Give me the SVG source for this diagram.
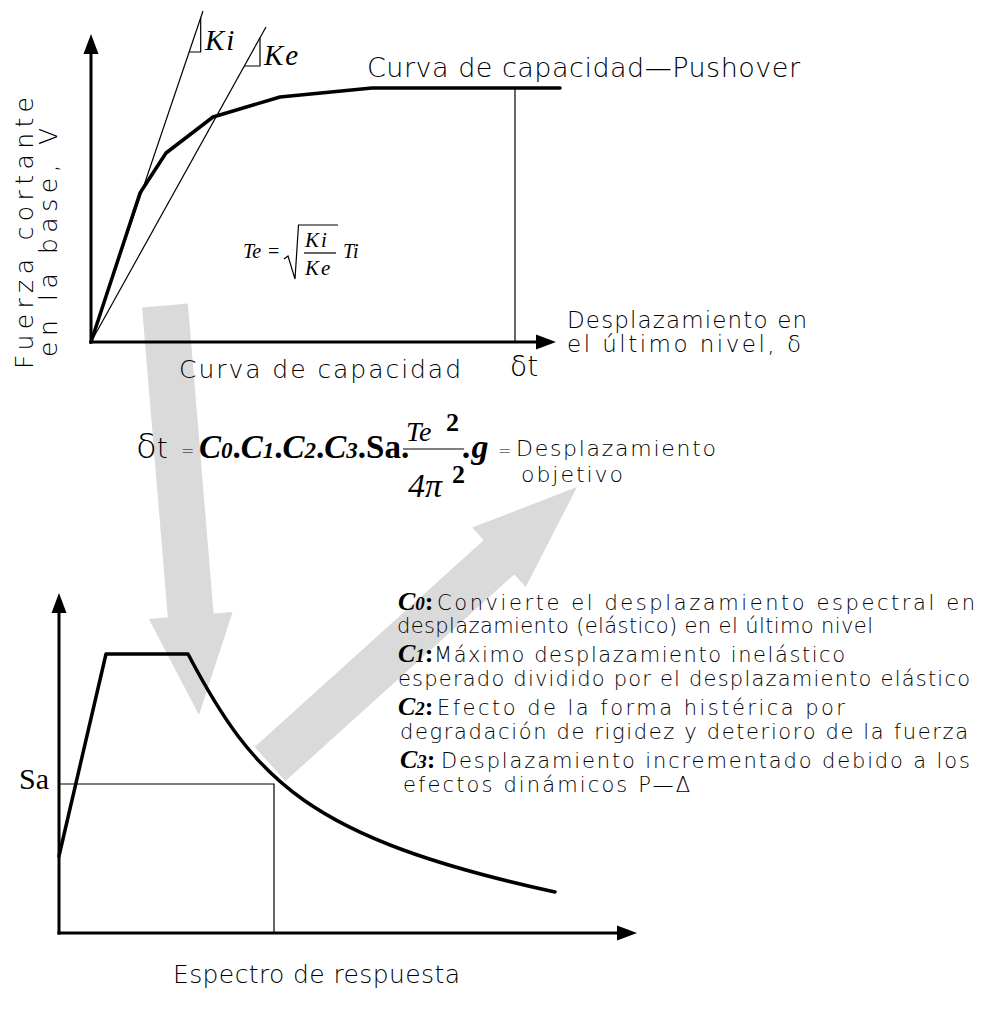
<svg xmlns="http://www.w3.org/2000/svg" width="1000" height="1021" viewBox="0 0 1000 1021">
<style>
.cad{font-family:"DejaVu Sans","Liberation Sans",sans-serif;font-weight:200;fill:#000}
.ser{font-family:"Liberation Serif","DejaVu Serif",serif;fill:#000}
.lbl{font-family:"Liberation Serif","DejaVu Serif",serif;font-size:26px;font-weight:bold;font-style:italic;fill:#000}
.thin{fill:none;stroke:#000;stroke-width:1.2}
.axis{fill:none;stroke:#000;stroke-width:3}
.thick{fill:none;stroke:#000;stroke-width:3.5;stroke-linejoin:round;stroke-linecap:round}
.big{fill:#dadada;stroke:none}
</style>
<rect width="1000" height="1021" fill="#fff"/>
<g id="connectors">
  <polygon class="big" points="142.1,307.4 187.9,303.6 213.6,613.5 232.6,611.9 199,715 148.8,618.9 167.8,617.3"/>
  <polygon class="big" points="254.6,746.9 483.6,540.2 472.2,527.6 577,487 525.8,587 514.4,574.4 285.4,781.1"/>
</g>
<g id="capacity-chart">
  <line class="axis" x1="91" y1="343.5" x2="91" y2="52"/>
  <polygon points="91,34 83.5,54 98.5,54"/>
  <line class="axis" x1="89.5" y1="342" x2="538" y2="342"/>
  <polygon points="556,342 536,334.5 536,349.5"/>
  <line class="thin" x1="91" y1="342" x2="203" y2="11"/>
  <line class="thin" x1="91" y1="342" x2="266" y2="27"/>
  <path class="thin" d="M189,52 H200.7 V17.8"/>
  <path class="thin" d="M244.3,66 H260 V37.8"/>
  <text class="ser" x="205" y="50" font-size="29" font-style="italic" letter-spacing="2">Ki</text>
  <text class="ser" x="264" y="65" font-size="29" font-style="italic" letter-spacing="2">Ke</text>
  <polyline class="thick" points="91,342 140,193 166,153 213,117 280,97 372,88 560,88"/>
  <line class="thin" x1="515" y1="88" x2="515" y2="342"/>
  <text class="cad" x="367" y="77" font-size="27" textLength="433" lengthAdjust="spacing">Curva de capacidad—Pushover</text>
  <text class="cad" font-size="25" transform="translate(33,369) rotate(-90)" textLength="272" lengthAdjust="spacing">Fuerza cortante</text>
  <text class="cad" font-size="25" transform="translate(57,357) rotate(-90)" textLength="229" lengthAdjust="spacing">en la base, V</text>
  <text class="cad" x="567" y="328" font-size="23" textLength="240" lengthAdjust="spacing">Desplazamiento en</text>
  <text class="cad" x="567" y="352" font-size="23" textLength="234" lengthAdjust="spacing">el último nivel, δ</text>
  <text class="cad" x="179" y="378" font-size="25" textLength="282" lengthAdjust="spacing">Curva de capacidad</text>
  <text class="cad" x="510" y="376" font-size="28">δt</text>
  <g id="te-formula">
    <text class="ser" x="243" y="258" font-size="20" font-style="italic">Te</text>
    <text class="ser" x="268" y="258" font-size="20">=</text>
    <path class="thin" d="M284,259 L288,256 L295,279 L298.5,225 H338"/>
    <text class="ser" x="305" y="247" font-size="21" font-style="italic" letter-spacing="2">Ki</text>
    <line class="thin" x1="304" y1="253" x2="336" y2="253"/>
    <text class="ser" x="305" y="275" font-size="21" font-style="italic" letter-spacing="2">Ke</text>
    <text class="ser" x="343" y="258" font-size="20" font-style="italic">Ti</text>
  </g>
</g>
<g id="target-formula">
  <text class="cad" x="136" y="458" font-size="34">δ<tspan font-size="28">t</tspan></text>
  <text class="cad" x="181" y="456" font-size="16">=</text>
  <text class="ser" x="199" y="458" font-size="33" font-weight="bold"><tspan font-style="italic">C</tspan><tspan font-size="23" font-style="italic">0</tspan>.<tspan font-style="italic">C</tspan><tspan font-size="23" font-style="italic">1</tspan>.<tspan font-style="italic">C</tspan><tspan font-size="23" font-style="italic">2</tspan>.<tspan font-style="italic">C</tspan><tspan font-size="23" font-style="italic">3</tspan>.Sa.</text>
  <text class="ser" x="406" y="441" font-size="28" font-style="italic">Te</text>
  <text class="ser" x="446" y="431" font-size="26" font-weight="bold">2</text>
  <line class="thin" x1="403" y1="449" x2="464" y2="449"/>
  <text class="ser" x="408" y="497" font-size="34" font-style="italic">4π</text>
  <text class="ser" x="452" y="483" font-size="26" font-weight="bold">2</text>
  <text class="ser" x="463" y="458" font-size="34" font-weight="bold" font-style="italic">.g</text>
  <text class="cad" x="498" y="456" font-size="16">=</text>
  <text class="cad" x="516" y="456" font-size="22" textLength="200" lengthAdjust="spacing">Desplazamiento</text>
  <text class="cad" x="521" y="482" font-size="22" textLength="102" lengthAdjust="spacing">objetivo</text>
</g>
<g id="spectrum-chart">
  <line class="axis" x1="59" y1="934.5" x2="59" y2="612"/>
  <polygon points="59,593 51.5,613 66.5,613"/>
  <line class="axis" x1="57.5" y1="933" x2="618" y2="933"/>
  <polygon points="637,933 617,925.5 617,940.5"/>
  <path class="thick" d="M59,856 L106,654 H188 C254.5,780 307.5,838 555,892"/>
  <path class="thin" d="M59,784 H274 V933"/>
  <text class="ser" x="19" y="789" font-size="30">Sa</text>
  <text class="cad" x="173" y="983" font-size="25" textLength="287" lengthAdjust="spacing">Espectro de respuesta</text>
</g>
<g id="coefficients" class="cad" font-size="21">
  <text class="lbl" x="398" y="610">C<tspan font-size="19">0</tspan><tspan font-style="normal">:</tspan></text>
  <text x="437" y="610" textLength="538" lengthAdjust="spacing">Convierte el desplazamiento espectral en</text>
  <text x="397" y="633" textLength="476" lengthAdjust="spacing">desplazamiento (elástico) en el último nivel</text>
  <text class="lbl" x="398" y="662">C<tspan font-size="19">1</tspan><tspan font-style="normal">:</tspan></text>
  <text x="434" y="662" textLength="411" lengthAdjust="spacing">Máximo desplazamiento inelástico</text>
  <text x="398" y="686" textLength="572" lengthAdjust="spacing">esperado dividido por el desplazamiento elástico</text>
  <text class="lbl" x="398" y="715">C<tspan font-size="19">2</tspan><tspan font-style="normal">:</tspan></text>
  <text x="437" y="715" textLength="408" lengthAdjust="spacing">Efecto de la forma histérica por</text>
  <text x="400" y="739" textLength="568" lengthAdjust="spacing">degradación de rigidez y deterioro de la fuerza</text>
  <text class="lbl" x="400" y="768">C<tspan font-size="19">3</tspan><tspan font-style="normal">:</tspan></text>
  <text x="441" y="768" textLength="529" lengthAdjust="spacing">Desplazamiento incrementado debido a los</text>
  <text x="403" y="792" textLength="287" lengthAdjust="spacing">efectos dinámicos P—Δ</text>
</g>
</svg>
